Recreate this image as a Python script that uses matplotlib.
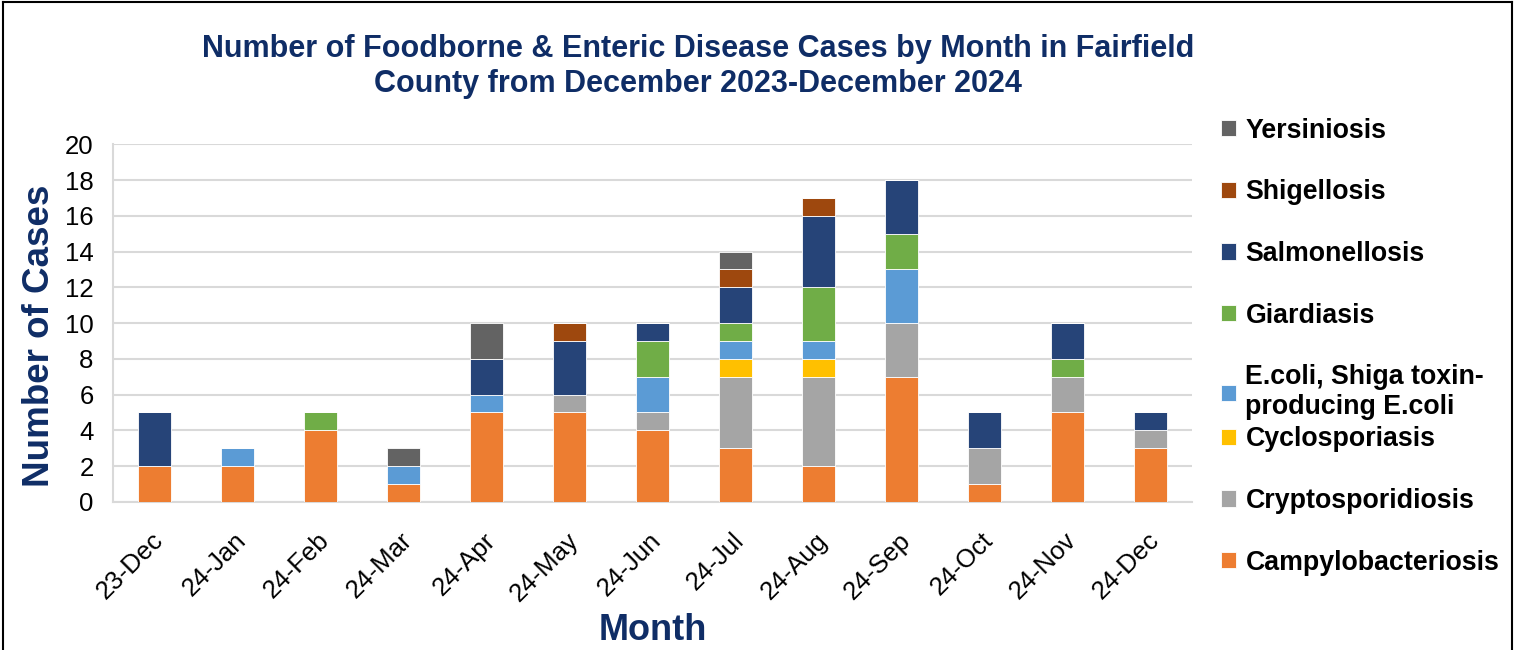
import matplotlib.pyplot as plt
import numpy as np
from matplotlib.lines import Line2D
from matplotlib.transforms import ScaledTranslation

plt.rcParams['font.family'] = ['Liberation Sans', 'DejaVu Sans']

months = ['23-Dec', '24-Jan', '24-Feb', '24-Mar', '24-Apr', '24-May', '24-Jun',
          '24-Jul', '24-Aug', '24-Sep', '24-Oct', '24-Nov', '24-Dec']

# stacked bottom -> top
diseases = ['Campylobacteriosis', 'Cryptosporidiosis', 'Cyclosporiasis',
            'E.coli, Shiga toxin-\nproducing E.coli', 'Giardiasis',
            'Salmonellosis', 'Shigellosis', 'Yersiniosis']
campylo = [2, 2, 4, 1, 5, 5, 4, 3, 2, 7, 1, 5, 3]
crypto = [0, 0, 0, 0, 0, 1, 1, 4, 5, 3, 2, 2, 1]
cyclo = [0, 0, 0, 0, 0, 0, 0, 1, 1, 0, 0, 0, 0]
ecoli = [0, 1, 0, 1, 1, 0, 2, 1, 1, 3, 0, 0, 0]
giardia = [0, 0, 1, 0, 0, 0, 2, 1, 3, 2, 0, 1, 0]
salmonella = [3, 0, 0, 0, 2, 3, 1, 2, 4, 3, 2, 2, 1]
shigella = [0, 0, 0, 0, 0, 1, 0, 1, 1, 0, 0, 0, 0]
yersinia = [0, 0, 0, 1, 2, 0, 0, 1, 0, 0, 0, 0, 0]

series = [campylo, crypto, cyclo, ecoli, giardia, salmonella, shigella, yersinia]
colors = ['#ED7D31', '#A5A5A5', '#FFC000', '#5B9BD5', '#70AD47',
          '#264478', '#9E480E', '#636363']

navy = '#0F2D66'

fig = plt.figure(figsize=(15.15, 6.5), dpi=100)
ax = fig.add_axes([0.0746, 0.228, 0.7124, 0.550])

x = np.arange(len(months))
bottom = np.zeros(len(months))
for vals, name, c in zip(series, diseases, colors):
    ax.bar(x, vals, width=0.4, bottom=bottom, color=c, label=name,
           edgecolor='white', linewidth=0.6, zorder=3)
    bottom += np.array(vals)

ax.set_xlim(-0.5, len(months) - 0.5)
ax.set_ylim(0, 20)
ax.set_yticks(range(0, 21, 2))
ax.set_xticks(x)
ax.set_xticklabels(months, rotation=45, ha='right', va='center', rotation_mode='anchor')
ax.tick_params(axis='y', labelsize=18.5, length=0, pad=14)
ax.tick_params(axis='x', labelsize=18.5, length=0, pad=25)
shift = ScaledTranslation(0.05, 0, fig.dpi_scale_trans)
for lab in ax.get_xticklabels():
    lab.set_transform(lab.get_transform() + shift)
ax.grid(axis='y', color='#D9D9D9', linewidth=1.5, zorder=0)
for s in ['top', 'right']:
    ax.spines[s].set_visible(False)
ax.spines['left'].set_color('#D9D9D9')
ax.spines['bottom'].set_color('#D9D9D9')
ax.spines['left'].set_linewidth(1.5)
ax.spines['bottom'].set_linewidth(1.5)

ax.set_ylabel('Number of Cases', fontsize=26.5, fontweight='bold', color=navy)
ax.yaxis.set_label_coords(-0.052, 0.464)
ax.set_xlabel('Month', fontsize=26, fontweight='bold', color=navy, labelpad=5)

fig.text(0.461, 0.898, 'Number of Foodborne & Enteric Disease Cases by Month in Fairfield\n'
         'County from December 2023-December 2024', ha='center', va='center',
         fontsize=22, fontweight='bold', color=navy, linespacing=1.2)

# legend in two parts so the two-line E.coli entry does not push the rest down
handles, labels = ax.get_legend_handles_labels()
handles, labels = handles[::-1], labels[::-1]
leg_kw = dict(loc='upper left', frameon=False, prop={'size': 19.3, 'weight': 'bold'},
              handlelength=0.55, handleheight=0.55, handletextpad=0.35,
              labelspacing=1.33, borderpad=0.3)
fig.legend(handles[:5], labels[:5], bbox_to_anchor=(0.792, 0.852), **leg_kw)
fig.legend(handles[5:], labels[5:], bbox_to_anchor=(0.792, 0.377), **leg_kw)

# border of the chart area (no bottom edge visible in the reference)
for xs, ys in [([0.002, 0.002], [0, 0.997]), ([0.002, 0.998], [0.997, 0.997]),
               ([0.998, 0.998], [0.997, 0])]:
    fig.add_artist(Line2D(xs, ys, transform=fig.transFigure, color='black', linewidth=1.5))

fig.savefig('out.png', dpi=100)
